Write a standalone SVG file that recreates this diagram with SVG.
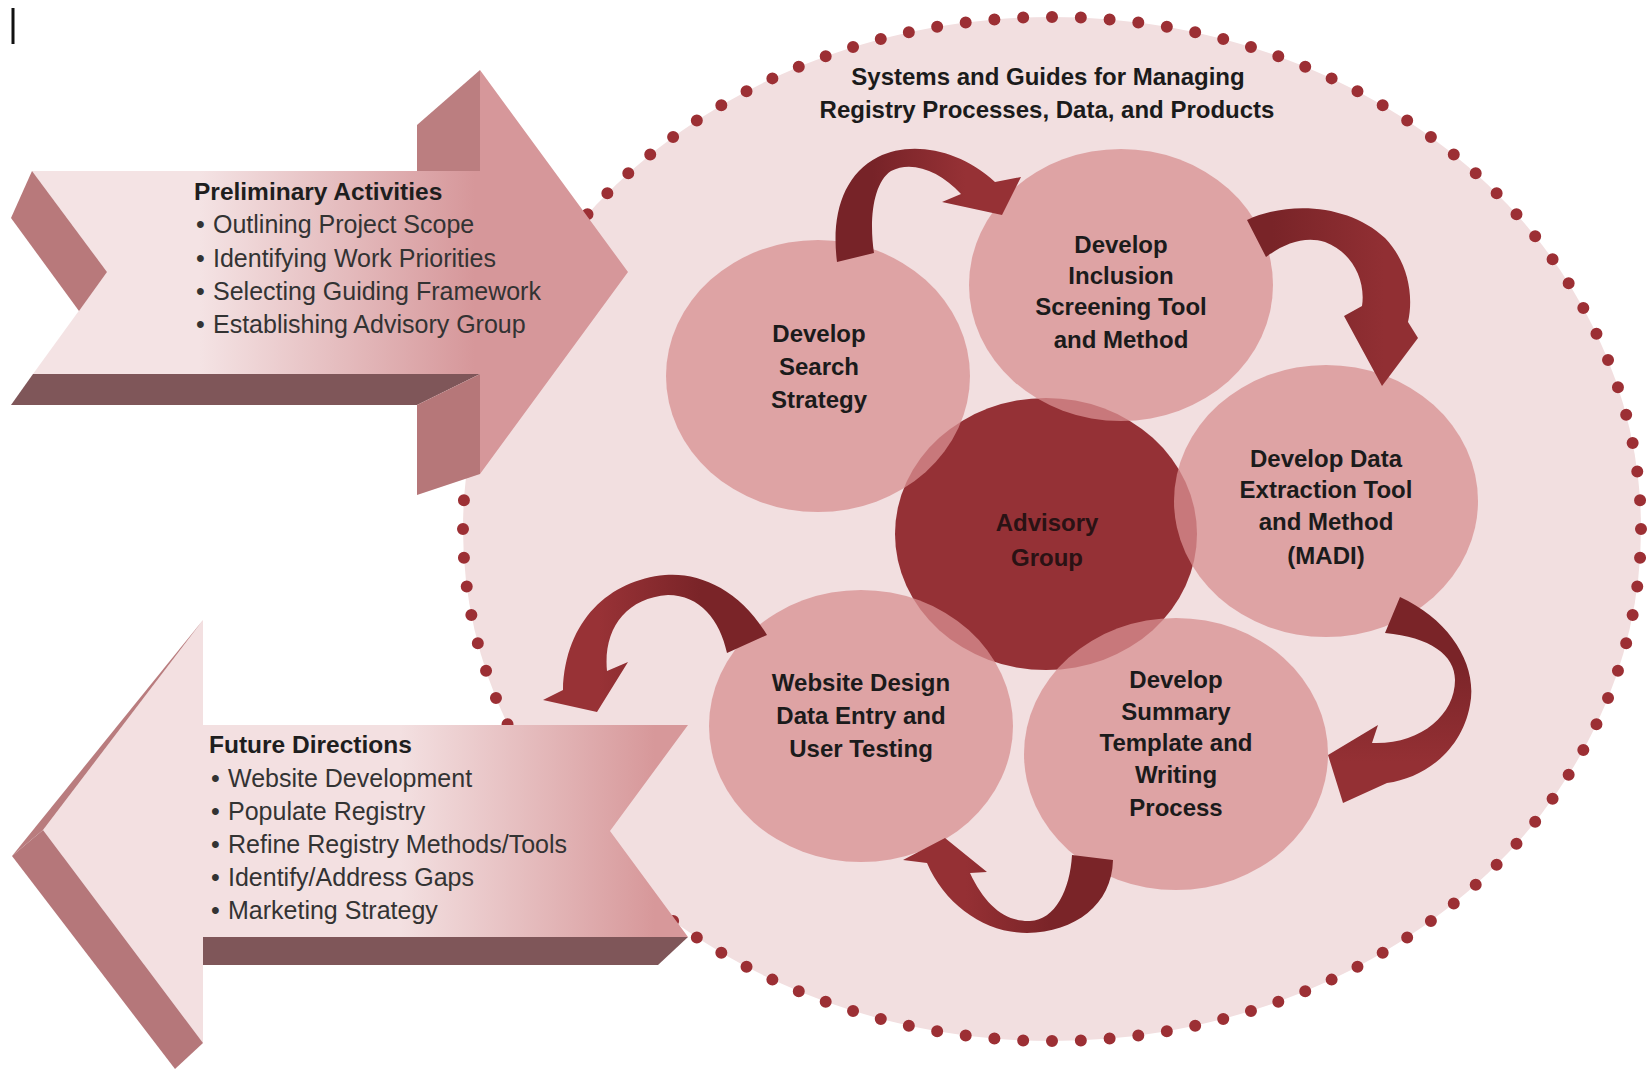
<svg xmlns="http://www.w3.org/2000/svg" width="1647" height="1069" viewBox="0 0 1647 1069">
  <defs>
    <style>
      .lbl { font-family: "Liberation Sans", Arimo, Arial, sans-serif; font-weight: bold; font-size: 24px; fill: #1b1b1b; text-anchor: middle; }
      .hdr { font-family: "Liberation Sans", Arimo, Arial, sans-serif; font-weight: bold; font-size: 24.5px; fill: #1e1e1e; }
      .bul { font-family: "Liberation Sans", Arimo, Arial, sans-serif; font-size: 25px; fill: #333333; }
      .node { fill: #d78f91; fill-opacity: 0.76; }
      .side { fill: #b8797b; }
      .band { fill: #7f5659; }
    </style>
    <linearGradient id="gPre" gradientUnits="userSpaceOnUse" x1="200" y1="0" x2="475" y2="0">
      <stop offset="0" stop-color="#f4e3e4"/>
      <stop offset="1" stop-color="#d6979a"/>
    </linearGradient>
    <linearGradient id="gFut" gradientUnits="userSpaceOnUse" x1="400" y1="0" x2="655" y2="0">
      <stop offset="0" stop-color="#f3e0e1"/>
      <stop offset="1" stop-color="#d7989a"/>
    </linearGradient>
    <linearGradient id="gA1" x1="0" y1="0" x2="1" y2="0">
      <stop offset="0.2" stop-color="#772328"/>
      <stop offset="0.7" stop-color="#963135"/>
    </linearGradient>
    <linearGradient id="gA2" x1="0" y1="0" x2="1" y2="0">
      <stop offset="0.15" stop-color="#792428"/>
      <stop offset="0.8" stop-color="#912f33"/>
    </linearGradient>
    <linearGradient id="gA3" x1="0" y1="0" x2="0" y2="1">
      <stop offset="0.3" stop-color="#7a2428"/>
      <stop offset="0.8" stop-color="#943034"/>
    </linearGradient>
    <linearGradient id="gA4" x1="0" y1="0" x2="1" y2="0">
      <stop offset="0.3" stop-color="#953034"/>
      <stop offset="0.7" stop-color="#7a2428"/>
    </linearGradient>
    <linearGradient id="gA5" x1="0" y1="0" x2="1" y2="0">
      <stop offset="0.25" stop-color="#983236"/>
      <stop offset="0.7" stop-color="#7a2428"/>
    </linearGradient>
  </defs>

  <rect x="0" y="0" width="1647" height="1069" fill="#ffffff"/>
  <rect x="11.5" y="8" width="3" height="36" fill="#111111"/>

  <g id="systems-boundary">
    <ellipse cx="1052" cy="529" rx="589" ry="512" fill="#f2dfe0"/>
    <path d="M1052,17 A589,512 0 1,1 1052,1041 A589,512 0 1,1 1052,17 Z" pathLength="120" fill="none" stroke="#9c2f34" stroke-width="12" stroke-linecap="round" stroke-dasharray="0 1"/>
    <text class="lbl" x="1048" y="85">Systems and Guides for Managing</text>
    <text class="lbl" x="1047" y="118">Registry Processes, Data, and Products</text>
  </g>

  <g id="preliminary-activities">
    <path d="M32,171 L480,171 L480,70 L628,272 L480,474 L480,374 L33,374 L107,272 Z" fill="url(#gPre)"/>
    <polygon class="side" points="32,171 107,272 79,311 11,218"/>
    <polygon points="480,70 480,171 417,171 417,125" fill="#bb7e80"/>
    <polygon class="band" points="33,374 480,374 417,405 11,405"/>
    <polygon points="480,374 480,474 417,495 417,405" fill="#b67779"/>
    <text class="hdr" x="194" y="200">Preliminary Activities</text>
    <text class="bul" x="196" y="233">•<tspan x="213">Outlining Project Scope</tspan></text>
    <text class="bul" x="196" y="267">•<tspan x="213">Identifying Work Priorities</tspan></text>
    <text class="bul" x="196" y="300">•<tspan x="213">Selecting Guiding Framework</tspan></text>
    <text class="bul" x="196" y="333">•<tspan x="213">Establishing Advisory Group</tspan></text>
  </g>

  <g id="future-directions">
    <path d="M203,620 L203,725 L688,725 L610,831 L688,937 L203,937 L203,1043 L43,830 Z" fill="url(#gFut)"/>
    <polygon points="203,620 43,830 12,856" fill="#b97c7e"/>
    <polygon points="43,830 203,1043 175,1069 12,856" fill="#b5777a"/>
    <polygon class="band" points="203,937 688,937 658,965 203,965"/>
    <text class="hdr" x="209" y="753">Future Directions</text>
    <text class="bul" x="211" y="787">•<tspan x="228">Website Development</tspan></text>
    <text class="bul" x="211" y="820">•<tspan x="228">Populate Registry</tspan></text>
    <text class="bul" x="211" y="853">•<tspan x="228">Refine Registry Methods/Tools</tspan></text>
    <text class="bul" x="211" y="886">•<tspan x="228">Identify/Address Gaps</tspan></text>
    <text class="bul" x="211" y="919">•<tspan x="228">Marketing Strategy</tspan></text>
  </g>

  <g id="advisory-group">
    <ellipse cx="1046" cy="534" rx="151" ry="136" fill="#953136"/>
    <text class="lbl" x="1047" y="531" style="fill:#2a1214">Advisory</text>
    <text class="lbl" x="1047" y="566" style="fill:#2a1214">Group</text>
  </g>

  <g id="develop-search-strategy">
    <ellipse class="node" cx="818" cy="376" rx="152" ry="136"/>
    <text class="lbl" x="819" y="342">Develop</text>
    <text class="lbl" x="819" y="375">Search</text>
    <text class="lbl" x="819" y="408">Strategy</text>
  </g>

  <g id="develop-inclusion-screening">
    <ellipse class="node" cx="1121" cy="285" rx="152" ry="136"/>
    <text class="lbl" x="1121" y="253">Develop</text>
    <text class="lbl" x="1121" y="284">Inclusion</text>
    <text class="lbl" x="1121" y="315">Screening Tool</text>
    <text class="lbl" x="1121" y="348">and Method</text>
  </g>

  <g id="develop-data-extraction">
    <ellipse class="node" cx="1326" cy="501" rx="152" ry="136"/>
    <text class="lbl" x="1326" y="467">Develop Data</text>
    <text class="lbl" x="1326" y="498">Extraction Tool</text>
    <text class="lbl" x="1326" y="530">and Method</text>
    <text class="lbl" x="1326" y="564">(MADI)</text>
  </g>

  <g id="website-design">
    <ellipse class="node" cx="861" cy="726" rx="152" ry="136"/>
    <text class="lbl" x="861" y="691">Website Design</text>
    <text class="lbl" x="861" y="724">Data Entry and</text>
    <text class="lbl" x="861" y="757">User Testing</text>
  </g>

  <g id="develop-summary-template">
    <ellipse class="node" cx="1176" cy="754" rx="152" ry="136"/>
    <text class="lbl" x="1176" y="688">Develop</text>
    <text class="lbl" x="1176" y="720">Summary</text>
    <text class="lbl" x="1176" y="751">Template and</text>
    <text class="lbl" x="1176" y="783">Writing</text>
    <text class="lbl" x="1176" y="816">Process</text>
  </g>

  <g id="connectors">
    <path d="M837,262 C831,215 843,175 878,157 C910,141 958,148 995,182 L1021,177 L1002,215 L942,202 L961,194 C940,171 912,160 891,171 C873,183 869,220 874,253 Z" fill="url(#gA1)"/>
    <path d="M1247,220 C1290,200 1350,205 1385,238 C1408,262 1414,295 1408,322 L1418,338 L1382,386 L1344,316 L1362,306 C1366,280 1352,252 1325,242 C1305,236 1285,243 1266,257 Z" fill="url(#gA2)"/>
    <path d="M1400,597 C1450,620 1478,665 1470,705 C1462,750 1425,778 1387,783 L1343,803 L1328,755 L1378,725 L1372,743 C1420,745 1455,715 1455,680 C1455,655 1430,637 1385,633 Z" fill="url(#gA3)"/>
    <path d="M1113,860 C1112,905 1075,932 1027,933 C985,933 945,905 927,863 L903,860 L945,838 L987,872 L970,873 C985,905 1005,922 1030,921 C1055,920 1070,890 1072,855 Z" fill="url(#gA4)"/>
    <path d="M767,635 C740,590 700,572 665,575 C610,580 565,620 563,690 L543,700 L597,712 L628,662 L607,671 C603,630 625,598 668,595 C700,595 720,620 727,653 Z" fill="url(#gA5)"/>
  </g>
</svg>
